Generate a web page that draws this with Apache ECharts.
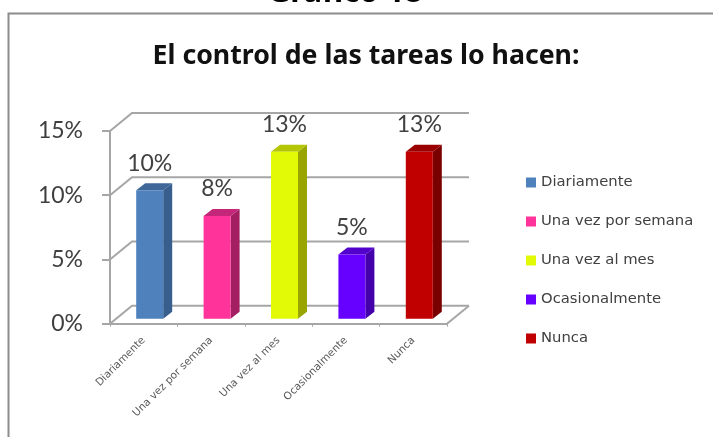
<!DOCTYPE html>
<html><head><meta charset="utf-8">
<style>html,body{margin:0;padding:0;background:#fff}#c{width:713px;height:437px}</style>
<script src="https://cdn.jsdelivr.net/npm/echarts@6/dist/echarts.min.js"></script>
</head><body><div id="c"></div>
<script>
const categories = ['Diariamente','Una vez por semana','Una vez al mes','Ocasionalmente','Nunca'];
const values = [10, 8, 13, 5, 13];
const frontColors = ['#4F81BD','#FF3399','#E3FA07','#6600FF','#C00000'];
const sideColors = ['#375E8C','#A31F62','#99A500','#4400AA','#7A0000'];
const topColors = ['#3F6797','#C4267A','#B5C606','#5200CC','#9A0000'];
const yTicks = [0, 5, 10, 15];

const DX = 22, DY = 18;       // wall depth
const BW = 27, BD = 9, BH = 7; // bar face width, side depth
const BOX = 6, BOY = -5;      // bar offset inside the floor

const chart = echarts.init(document.getElementById('c'));

function wallItem(params, api) {
  const v = api.value(0);
  const p0 = api.coord([0, v]);
  const left = params.coordSys.x, right = left + params.coordSys.width, y = p0[1];
  const style = {stroke:'#A6A6A6', lineWidth:2, fill:'none'};
  const children = [{type:'polyline', shape:{points:[[left,y],[left+DX,y-DY],[right+DX,y-DY]]}, style}];
  if (v === 0) children.push({type:'line', shape:{x1:right,y1:y,x2:right+DX,y2:y-DY}, style});
  return {type:'group', children};
}

function barItem(idx) {
  return function (params, api) {
    const cat = api.value(0), val = api.value(1);
    const t = api.coord([cat, val]), b = api.coord([cat, 0]);
    const x0 = t[0] - BW/2 + BOX, x1 = x0 + BW;
    const yT = t[1] + BOY, yB = b[1] + BOY;
    return {type:'group', children:[
      {type:'polygon', shape:{points:[[x1,yT],[x1+BD,yT-BH],[x1+BD,yB-BH],[x1,yB]]}, style:{fill:sideColors[idx]}},
      {type:'polygon', shape:{points:[[x0,yT],[x0+BD,yT-BH],[x1+BD,yT-BH],[x1,yT]]}, style:{fill:topColors[idx]}},
      {type:'rect', shape:{x:x0,y:yT,width:BW,height:yB-yT}, style:{fill:frontColors[idx]}},
      {type:'text', style:{text:val+'%', x:x0+BW/2, y:yT-27, align:'center', verticalAlign:'middle',
        fontFamily:'Lato', fontSize:23, fill:'#404040'}}
    ]};
  };
}

const series = [{
  type:'custom', name:'__wall', silent:true, z:1,
  data: yTicks.map(v => [v]), encode:{y:0}, renderItem: wallItem
}].concat(categories.map((name, i) => ({
  type:'custom', name, z:3, color: frontColors[i],
  data:[[i, values[i]]], encode:{x:0,y:1}, renderItem: barItem(i)
})));

chart.setOption({
  animation:false,
  backgroundColor:'#fff',
  title:[
    {text:'El control de las tareas lo hacen:', left:361, top:38, textAlign:'center',
     textStyle:{fontFamily:'Noto Sans', fontWeight:'bold', fontSize:26.7, color:'#111'}},
    {text:'Gráfico 18', left:340, top:-27, textAlign:'center',
     textStyle:{fontFamily:'Noto Sans', fontWeight:'bold', fontSize:31, color:'#000'}}
  ],
  graphic:[{type:'polyline', z:0, shape:{points:[[8.5,437],[8.5,13.5],[713,13.5]]}, style:{stroke:'#8C8C8C', lineWidth:2, fill:'none'}}],
  grid:{left:110, top:131, width:337, height:192.7},
  legend:{
    data:categories, orient:'vertical', left:526, top:175, padding:0, itemWidth:10, itemHeight:10, itemGap:24,
    icon:'rect', textStyle:{fontFamily:'DejaVu Sans', fontSize:14.8, color:'#404040'}
  },
  xAxis:{type:'category', data:categories, boundaryGap:true,
    axisLine:{lineStyle:{color:'#A6A6A6', width:2}},
    axisTick:{show:true, length:3, lineStyle:{color:'#A6A6A6'}},
    axisLabel:{interval:0, rotate:45, margin:15, fontFamily:'DejaVu Sans', fontSize:10.5, color:'#595959'}},
  yAxis:{type:'value', min:0, max:15, interval:5,
    splitLine:{show:false},
    axisLine:{show:true, lineStyle:{color:'#A6A6A6', width:2}},
    axisTick:{show:true, length:8, lineStyle:{color:'#A6A6A6', width:2}},
    axisLabel:{margin:27, fontFamily:'Lato', fontSize:23, color:'#404040', formatter:'{value}%'}},
  series
});
</script></body></html>
